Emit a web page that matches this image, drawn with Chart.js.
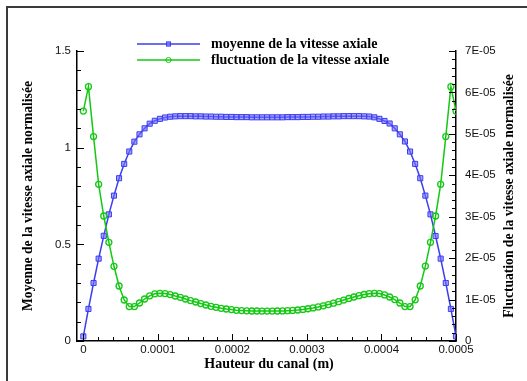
<!DOCTYPE html>
<html><head><meta charset="utf-8">
<script src="https://cdn.jsdelivr.net/npm/chart.js@4/dist/chart.umd.min.js"></script>
<style>
html,body{margin:0;padding:0;background:#fff;}
#wrap{position:relative;width:527px;height:381px;overflow:hidden;}
#frame{position:absolute;left:6px;top:6px;width:540px;height:400px;border-top:2px solid #3a3a3a;border-left:2px solid #3a3a3a;}
canvas{position:absolute;left:0;top:0;}
</style></head><body>
<div id="wrap"><div id="frame"></div><canvas id="c" width="527" height="381"></canvas></div>
<script>
// Channel height (m)
const channelHeight = [0,0.00000685,0.0000137,0.00002055,0.0000274,0.00003425,0.0000411,0.00004795,0.0000548,0.00006164,
0.00006849,0.00007534,0.00008219,0.00008904,0.00009589,0.00010274,0.00010959,0.00011644,0.00012329,0.00013014,
0.00013699,0.00014384,0.00015068,0.00015753,0.00016438,0.00017123,0.00017808,0.00018493,0.00019178,0.00019863,
0.00020548,0.00021233,0.00021918,0.00022603,0.00023288,0.00023973,0.00024658,0.00025342,0.00026027,0.00026712,
0.00027397,0.00028082,0.00028767,0.00029452,0.00030137,0.00030822,0.00031507,0.00032192,0.00032877,0.00033562,
0.00034247,0.00034932,0.00035616,0.00036301,0.00036986,0.00037671,0.00038356,0.00039041,0.00039726,0.00040411,
0.00041096,0.00041781,0.00042466,0.00043151,0.00043836,0.00044521,0.00045205,0.0004589,0.00046575,0.0004726,
0.00047945,0.0004863,0.00049315,0.0005];

// Normalised mean axial velocity (left axis)
const meanVelocity = [0.024,0.166,0.300,0.426,0.544,0.655,0.752,0.842,0.916,0.980,
1.031,1.069,1.100,1.124,1.139,1.149,1.156,1.160,1.162,1.163,
1.163,1.163,1.162,1.162,1.161,1.161,1.160,1.160,1.159,1.159,
1.158,1.158,1.158,1.157,1.157,1.157,1.157,1.157,1.157,1.157,
1.158,1.158,1.158,1.159,1.159,1.160,1.160,1.161,1.161,1.162,
1.162,1.163,1.163,1.163,1.163,1.162,1.161,1.157,1.149,1.138,
1.125,1.100,1.069,1.032,0.980,0.916,0.842,0.752,0.655,0.543,
0.426,0.300,0.166,0.024];

// Normalised axial velocity fluctuation (right axis)
const fluctuation = [5.551e-5,6.140e-5,4.934e-5,3.782e-5,3.017e-5,2.382e-5,1.803e-5,1.328e-5,0.990e-5,0.830e-5,
0.830e-5,0.917e-5,1.014e-5,1.091e-5,1.139e-5,1.151e-5,1.144e-5,1.120e-5,1.086e-5,1.055e-5,
1.014e-5,0.975e-5,0.941e-5,0.903e-5,0.869e-5,0.838e-5,0.813e-5,0.789e-5,0.772e-5,0.758e-5,
0.741e-5,0.734e-5,0.729e-5,0.724e-5,0.724e-5,0.722e-5,0.722e-5,0.722e-5,0.724e-5,0.726e-5,
0.731e-5,0.738e-5,0.748e-5,0.762e-5,0.779e-5,0.798e-5,0.822e-5,0.850e-5,0.880e-5,0.914e-5,
0.950e-5,0.988e-5,1.026e-5,1.062e-5,1.094e-5,1.122e-5,1.142e-5,1.150e-5,1.145e-5,1.112e-5,
1.062e-5,0.999e-5,0.917e-5,0.830e-5,0.830e-5,0.995e-5,1.328e-5,1.808e-5,2.382e-5,3.017e-5,
3.782e-5,4.934e-5,6.140e-5,5.551e-5];

const seriesLabels = ['moyenne de la vitesse axiale','fluctuation de la vitesse axiale'];
const xTickValues = [0,0.0001,0.0002,0.0003,0.0004,0.0005];
const xTickLabels = ['0','0.0001','0.0002','0.0003','0.0004','0.0005'];
const leftTickValues = [0,0.5,1,1.5];
const leftTickLabels = ['0','0.5','1','1.5'];
const rightTickValues = [0,1e-5,2e-5,3e-5,4e-5,5e-5,6e-5,7e-5];
const rightTickLabels = ['0','1E-05','2E-05','3E-05','4E-05','5E-05','6E-05','7E-05'];
const xTitle = 'Hauteur du canal (m)';
const leftTitle = 'Moyenne de la vitesse axiale normalisée';
const rightTitle = 'Fluctuation de la vitesse axiale normalisée';

const BLUE = '#3c3cf0', GREEN = '#14c814';
const tickFont = {family:'"Liberation Sans", Arial, sans-serif', size:11.5};
const titleFont = 'bold 14px "Liberation Serif", "Times New Roman", serif';
const sideTitleFont = 'bold 13.6px "Liberation Serif", "Times New Roman", serif';

function pts(ys){ return channelHeight.map((x,i)=>({x:x,y:ys[i]})); }

const decor = {
  id:'decor',
  afterDraw(chart){
    const ctx = chart.ctx, a = chart.chartArea;
    const sx = chart.scales.x, sl = chart.scales.y, sr = chart.scales.y1;
    ctx.save();
    ctx.strokeStyle = '#000'; ctx.lineWidth = 1;
    for (let k=0;k<=25;k++){
      const px = Math.round(sx.getPixelForValue(k*0.00002))+0.5;
      const len = (k%5===0)?7:4;
      ctx.beginPath(); ctx.moveTo(px,a.bottom); ctx.lineTo(px,a.bottom-len); ctx.stroke();
    }
    for (let k=0;k<=15;k++){
      const py = Math.round(sl.getPixelForValue(k*0.1))+0.5;
      const len = (k%5===0)?7:4;
      ctx.beginPath(); ctx.moveTo(a.left,py); ctx.lineTo(a.left+len,py); ctx.stroke();
    }
    for (let k=0;k<=35;k++){
      const py = Math.round(sr.getPixelForValue(k*2e-6))+0.5;
      const len = (k%5===0)?7:4;
      ctx.beginPath(); ctx.moveTo(a.right,py); ctx.lineTo(a.right-len,py); ctx.stroke();
    }
    ctx.fillStyle = '#000'; ctx.font = titleFont;
    ctx.textAlign = 'center'; ctx.textBaseline = 'middle';
    ctx.fillText(xTitle, 269, 364);
    const cy = (a.top+a.bottom)/2;
    ctx.font = sideTitleFont;
    ctx.save(); ctx.translate(28, cy); ctx.rotate(-Math.PI/2); ctx.fillText(leftTitle,0,0); ctx.restore();
    ctx.save(); ctx.translate(509, cy); ctx.rotate(-Math.PI/2); ctx.fillText(rightTitle,0,0); ctx.restore();
    ctx.font = titleFont;
    const rows = [44, 60];
    chart.data.datasets.forEach((ds,i)=>{
      const y = rows[i];
      ctx.strokeStyle = ds.borderColor; ctx.lineWidth = 1.5;
      ctx.beginPath(); ctx.moveTo(137,y); ctx.lineTo(200,y); ctx.stroke();
      ctx.lineWidth = 1;
      if (ds.pointStyle === 'rect'){
        ctx.fillStyle = ds.pointBackgroundColor; ctx.fillRect(166,y-2.5,5,5);
        ctx.strokeRect(166.5,y-2,4,4);
      } else {
        ctx.beginPath(); ctx.arc(168.5,y,2.6,0,Math.PI*2); ctx.stroke();
      }
      ctx.fillStyle = '#000'; ctx.textAlign = 'left';
      ctx.fillText(ds.label, 211, y);
    });
    ctx.restore();
  }
};

new Chart(document.getElementById('c'), {
  type:'line',
  data:{datasets:[
    {label:seriesLabels[0], data:pts(meanVelocity), yAxisID:'y', borderColor:BLUE, borderWidth:1.5,
     pointStyle:'rect', pointRadius:3.6, pointBorderWidth:1, pointBorderColor:BLUE,
     pointBackgroundColor:'rgba(110,110,255,0.6)', order:1, tension:0},
    {label:seriesLabels[1], data:pts(fluctuation), yAxisID:'y1', borderColor:GREEN, borderWidth:1.5,
     pointStyle:'circle', pointRadius:3, pointBorderWidth:1.3, pointBorderColor:GREEN,
     pointBackgroundColor:'rgba(0,0,0,0)', order:0, tension:0}
  ]},
  options:{
    responsive:false, animation:false, devicePixelRatio:1,
    layout:{padding:{top:51,left:0,right:0,bottom:0}},
    plugins:{legend:{display:false}, tooltip:{enabled:false}},
    scales:{
      x:{type:'linear', position:'bottom', min:-0.0000085, max:0.0005,
         afterBuildTicks:s=>{s.ticks = xTickValues.map(v=>({value:v}));},
         afterFit:s=>{s.height = 40;},
         ticks:{autoSkip:false, maxRotation:0, padding:2, font:tickFont, color:'#111',
                callback:(v,i)=>xTickLabels[i]},
         grid:{display:false, drawTicks:false},
         border:{display:true, color:'#000', width:1.5}},
      y:{type:'linear', position:'left', min:0, max:1.5,
         afterBuildTicks:s=>{s.ticks = leftTickValues.map(v=>({value:v}));},
         afterFit:s=>{s.width = 77;},
         ticks:{padding:6, font:tickFont, color:'#111', callback:(v,i)=>leftTickLabels[i]},
         grid:{display:false, drawTicks:false},
         border:{display:true, color:'#000', width:1.5}},
      y1:{type:'linear', position:'right', min:0, max:7e-5,
         afterBuildTicks:s=>{s.ticks = rightTickValues.map(v=>({value:v}));},
         afterFit:s=>{s.width = 71;},
         ticks:{padding:9, font:tickFont, color:'#111', callback:(v,i)=>rightTickLabels[i]},
         grid:{display:false, drawTicks:false},
         border:{display:true, color:'#000', width:1.5}}
    }
  },
  plugins:[decor]
});
</script>
</body></html>
